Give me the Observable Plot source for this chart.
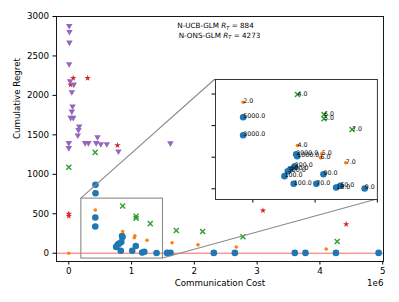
<!DOCTYPE html>
<html><head><meta charset="utf-8">
<script src="https://cdn.jsdelivr.net/npm/d3@7"></script>
<script src="https://cdn.jsdelivr.net/npm/@observablehq/plot@0.6"></script>
<style>
body{margin:0;background:#fff;}
#chart{position:relative;width:399px;height:302px;}
#chart svg{display:block;}
</style>
</head><body><div id="chart"></div>
<script>
// ---- data (communication cost in units of 1e6) ----
const blueX = [0.422,0.422,0.848,0.856,0.837,0.802,0.781,0.754,0.828,1.010,1.067,1.169,1.203,1.398, 0.425,0.425,1.565,1.620,2.310,2.645,3.600,3.770,4.255,4.935];
const blueY = [453,339,219,206,143,124,111,80,32,32,92,8,19,2, 867,760,4,4,4,4,4,4,4,4];
const blueLabel = ["5000.0","3000.0","2000.0","1000.0","200.0","500.0","300.0","100.0","100.0","70.0","90.0","10.0","50.0","9.0","","","","","","","","","",""];

const orangeX = [0.422,0.858,1.053,1.043,1.246, 0,1.645,2.058,2.668,4.100];
const orangeY = [548,274,221,196,165, 0,132,106,78,53];
const orangeLabel = ["2.0","4.0","5.0","6.0","7.0","","","","",""];

const greenX = [0.858,1.072,1.072,1.297, 0,0.420,1.713,2.132,2.774,4.275];
const greenY = [597,470,443,375, 1090,1278,288,275,208,148];
const greenLabel = ["4.0","6.0","5.0","7.0","","","","","",""];

const redX = [0.07,0.30,0.027,0.775,0,0,3.093,4.418];
const redY = [2219,2219,2135,1367,500,472,541,368];

const purpleX = [0.006,0.01,0.01,0.006,0.02,0.08,0.048,0.06,0.048,0.03,0.07,0.165,0.154,0.143,0,0,0.26,0.313,0.457,0.436,0.51,0.605,0.79,1.618];
const purpleY = [2882,2806,2671,2397,2181,2139,2042,1861,1797,1718,1718,1608,1562,1494,1397,1334,1397,1397,1472,1397,1384,1384,1291,1394];

const xTicks = [0,1,2,3,4,5];
const yTicks = [0,500,1000,1500,2000,2500,3000];
const zoomX = [0.2, 1.5];
const zoomY = [-68, 692];
const insetXTicks = [0.5,1.0,1.5];
const insetYTicks = [0,200,400,600];
const titleLines = [{name:"N-UCB-GLM", value:"884"},{name:"N-ONS-GLM", value:"4273"}];
const xLabel = "Communication Cost", yLabel = "Cumulative Regret", xOffsetLabel = "1e6";

// ---- build tables ----
const mk = (xs, ys, ls) => xs.map((x,i) => ({x, y: ys[i], label: ls ? ls[i] : ""}));
const blue = mk(blueX, blueY, blueLabel);
const orange = mk(orangeX, orangeY, orangeLabel);
const green = mk(greenX, greenY, greenLabel);
const red = mk(redX, redY);
const purple = mk(purpleX, purpleY);
const inZoom = d => d.x >= zoomX[0] && d.x <= zoomX[1] && d.y >= zoomY[0] && d.y <= zoomY[1];

const C = {blue:"#1f77b4", orange:"#ff7f0e", green:"#2ca02c", red:"#d62728", purple:"#9467bd"};
const seriesMarks = (b,o,g,r,p) => [
  Plot.dot(b, {x:"x", y:"y", r:3.3, fill:C.blue, symbol:"circle"}),
  Plot.dot(o, {x:"x", y:"y", r:1.8, fill:C.orange, symbol:"circle"}),
  Plot.dot(g, {x:"x", y:"y", r:2.4, stroke:C.green, strokeWidth:1.4, symbol:"times"}),
  Plot.dot(r, {x:"x", y:"y", r:2.0, fill:C.red, symbol:"star"}),
  Plot.dot(p, {x:"x", y:"y", r:2.4, fill:C.purple, symbol:"triangle", rotate:180})
];

// ---- layout ----
const W=399, H=302, mL=56, mR=16, mT=16, mB=41;
const fw = W-mL-mR, fh = H-mT-mB;
const insetFrac = {left:0.486, top:0.257, width:0.495, height:0.49};
const ix = mL + insetFrac.left*fw, iy = mT + insetFrac.top*fh;
const iw = insetFrac.width*fw, ih = insetFrac.height*fh;
const font = "DejaVu Sans, sans-serif";

const main = Plot.plot({
  width:W, height:H, marginLeft:mL, marginRight:mR, marginTop:mT, marginBottom:mB,
  style:{fontFamily:font, fontSize:"8.7px", color:"#000", background:"#fff", overflow:"visible"},
  x:{domain:[-0.196, 5.013], ticks:xTicks, tickFormat:d=>String(d), tickSize:3.5, tickPadding:3, label:null},
  y:{domain:[-105, 3000], ticks:yTicks, tickFormat:d=>String(d), tickSize:3.5, tickPadding:4, label:null},
  marks:[
    Plot.ruleY([0], {stroke:"#ff0000", strokeOpacity:0.6, strokeWidth:1}),
    Plot.rect([{x1:zoomX[0], x2:zoomX[1], y1:zoomY[0], y2:zoomY[1]}], {x1:"x1", x2:"x2", y1:"y1", y2:"y2", fill:"none", stroke:"#8a8a8a", strokeWidth:1.1}),
    ...seriesMarks(blue, orange, green, red, purple),
    Plot.frame({stroke:"#000", strokeWidth:0.9}),
    Plot.text([xLabel], {frameAnchor:"bottom", dy:22, text:d=>d, fontSize:8.7, lineAnchor:"middle"}),
    Plot.text([xOffsetLabel], {frameAnchor:"bottom-right", dy:22, text:d=>d, fontSize:8.7, textAnchor:"end", lineAnchor:"middle"}),
    Plot.text([yLabel], {frameAnchor:"left", dx:-39.5, rotate:-90, text:d=>d, fontSize:8.7, lineAnchor:"middle"})
  ]
});

const iml=6, imr=1, imt=1, imb=6;
const inset = Plot.plot({
  width: iw+iml+imr, height: ih+imt+imb, marginLeft:iml, marginRight:imr, marginTop:imt, marginBottom:imb,
  style:{fontFamily:font, fontSize:"6.3px", color:"#000", background:"transparent", overflow:"visible"},
  x:{domain:zoomX, ticks:insetXTicks, tickFormat:()=>"", tickSize:3.5, label:null},
  y:{domain:zoomY, ticks:insetYTicks, tickFormat:()=>"", tickSize:3.5, label:null},
  marks:[
    Plot.frame({fill:"#fff"}),
    ...seriesMarks(blue.filter(inZoom), orange.filter(inZoom), green.filter(inZoom), red.filter(inZoom), purple.filter(inZoom)),
    Plot.text([...blue, ...orange, ...green].filter(inZoom), {x:"x", y:"y", text:"label", textAnchor:"start", lineAnchor:"bottom", fontSize:6.3, fill:"#000", dy:1}),
    Plot.frame({stroke:"#222", strokeWidth:0.9})
  ]
});

const host = document.getElementById("chart");
host.appendChild(main);
const svg = d3.select(main);
const sx = main.scale("x"), sy = main.scale("y");
// connector lines (mark_inset corners 2 and 4)
const conn = [
  [sx.apply(zoomX[0]), sy.apply(zoomY[1]), ix, iy],
  [sx.apply(zoomX[1]), sy.apply(zoomY[0]), ix+iw, iy+ih]
];
svg.append("g").selectAll("line").data(conn).join("line")
  .attr("x1", d=>d[0]).attr("y1", d=>d[1]).attr("x2", d=>d[2]).attr("y2", d=>d[3])
  .attr("stroke", "#8a8a8a").attr("stroke-width", 1.1);
// inset placed over the main axes
inset.style.position = "absolute";
inset.style.left = (ix-iml) + "px";
inset.style.top = (iy-imt) + "px";
host.appendChild(inset);
// title annotation
const tg = svg.append("g").attr("font-family", font).attr("font-size", 7.2).attr("fill", "#000").attr("text-anchor", "middle");
titleLines.forEach((t, i) => {
  const tx = tg.append("text").attr("x", mL + fw/2 - (i===0?4:0)).attr("y", 28 + i*9.6);
  tx.append("tspan").text(t.name + " ");
  tx.append("tspan").attr("font-style", "italic").text("R");
  tx.append("tspan").attr("font-size", 5).attr("font-style", "italic").attr("dy", 1.5).text("T");
  tx.append("tspan").attr("dy", -1.5).text(" = " + t.value);
});
</script>
</body></html>
